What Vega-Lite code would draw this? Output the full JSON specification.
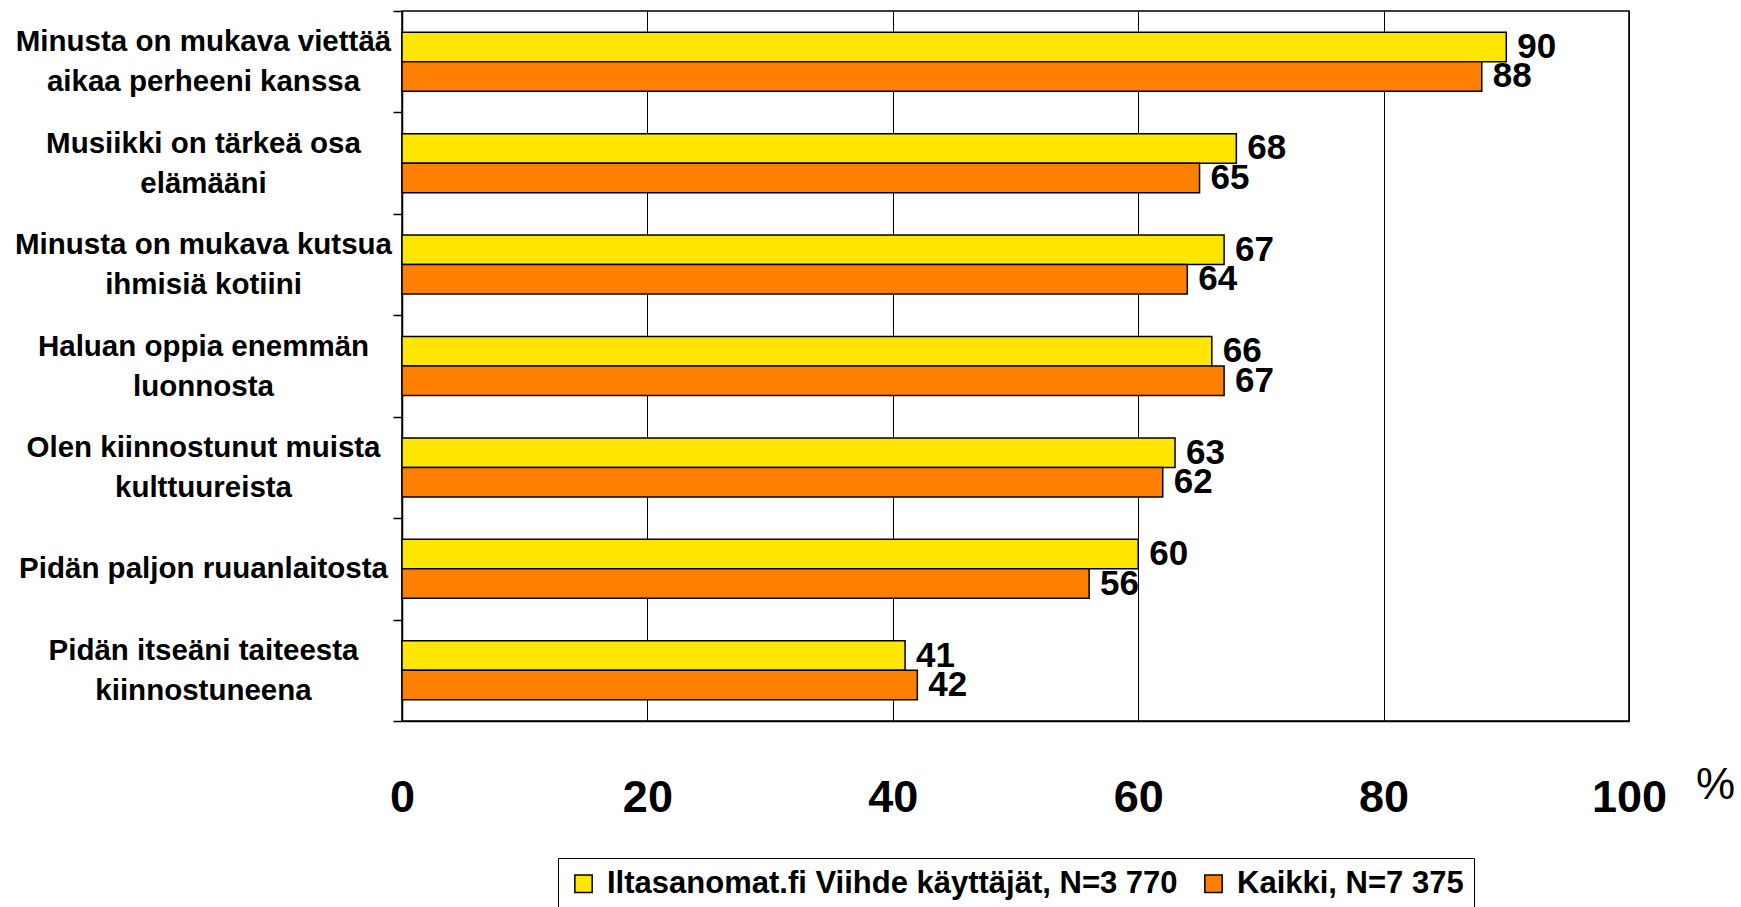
{
  "$schema": "https://vega.github.io/schema/vega-lite/v6.json",
  "width": 1227,
  "height": 710,
  "autosize": {"type": "none"},
  "padding": {"left": 402, "top": 11, "right": 112, "bottom": 186},
  "background": "white",
  "config": {
    "view": {"stroke": "black", "strokeWidth": 1.5},
    "font": "Liberation Sans"
  },
  "data": {
    "values": [
      {"kysymys": "Minusta on mukava viettää\naikaa perheeni kanssa", "ryhma": "Iltasanomat.fi Viihde käyttäjät, N=3 770", "arvo": 90},
      {"kysymys": "Minusta on mukava viettää\naikaa perheeni kanssa", "ryhma": "Kaikki, N=7 375", "arvo": 88},
      {"kysymys": "Musiikki on tärkeä osa\nelämääni", "ryhma": "Iltasanomat.fi Viihde käyttäjät, N=3 770", "arvo": 68},
      {"kysymys": "Musiikki on tärkeä osa\nelämääni", "ryhma": "Kaikki, N=7 375", "arvo": 65},
      {"kysymys": "Minusta on mukava kutsua\nihmisiä kotiini", "ryhma": "Iltasanomat.fi Viihde käyttäjät, N=3 770", "arvo": 67},
      {"kysymys": "Minusta on mukava kutsua\nihmisiä kotiini", "ryhma": "Kaikki, N=7 375", "arvo": 64},
      {"kysymys": "Haluan oppia enemmän\nluonnosta", "ryhma": "Iltasanomat.fi Viihde käyttäjät, N=3 770", "arvo": 66},
      {"kysymys": "Haluan oppia enemmän\nluonnosta", "ryhma": "Kaikki, N=7 375", "arvo": 67},
      {"kysymys": "Olen kiinnostunut muista\nkulttuureista", "ryhma": "Iltasanomat.fi Viihde käyttäjät, N=3 770", "arvo": 63},
      {"kysymys": "Olen kiinnostunut muista\nkulttuureista", "ryhma": "Kaikki, N=7 375", "arvo": 62},
      {"kysymys": "Pidän paljon ruuanlaitosta", "ryhma": "Iltasanomat.fi Viihde käyttäjät, N=3 770", "arvo": 60},
      {"kysymys": "Pidän paljon ruuanlaitosta", "ryhma": "Kaikki, N=7 375", "arvo": 56},
      {"kysymys": "Pidän itseäni taiteesta\nkiinnostuneena", "ryhma": "Iltasanomat.fi Viihde käyttäjät, N=3 770", "arvo": 41},
      {"kysymys": "Pidän itseäni taiteesta\nkiinnostuneena", "ryhma": "Kaikki, N=7 375", "arvo": 42}
    ]
  },
  "encoding": {
    "y": {
      "field": "kysymys",
      "type": "nominal",
      "sort": null,
      "scale": {"paddingInner": 0, "paddingOuter": 0},
      "axis": {
        "title": null,
        "tickBand": "extent",
        "tickSize": 9,
        "tickColor": "black",
        "tickWidth": 1.5,
        "domainColor": "black",
        "domainWidth": 1.5,
        "labelAlign": "center",
        "labelBaseline": "middle",
        "labelPadding": 190,
        "labelOffset": {"condition": {"test": "datum.value && indexof(datum.value, '\\n') >= 0", "value": -20}, "value": 0},
        "labelFontSize": 29.5,
        "labelFontWeight": "bold",
        "labelColor": "black",
        "labelLineHeight": 40,
        "labelLimit": 1000,
        "labelExpr": "datum.value ? split(datum.value, '\\n') : ''"
      }
    },
    "x": {
      "field": "arvo",
      "type": "quantitative",
      "scale": {"domain": [0, 100], "nice": false},
      "axis": {
        "title": "%",
        "values": [0, 20, 40, 60, 80, 100],
        "grid": true,
        "gridColor": "black",
        "gridWidth": 1,
        "gridOpacity": 1,
        "ticks": false,
        "domainColor": "black",
        "domainWidth": 1.5,
        "labelFontSize": 45,
        "labelFontWeight": "bold",
        "labelColor": "black",
        "labelPadding": 54,
        "labelFlush": false,
        "titleFontSize": 44,
        "titleFontWeight": "normal",
        "titleColor": "black",
        "titleX": 1313,
        "titleY": 64,
        "titleBaseline": "middle",
        "titleAlign": "center"
      }
    },
    "yOffset": {
      "field": "ryhma",
      "type": "nominal",
      "sort": null,
      "scale": {"paddingInner": 0, "paddingOuter": 0.72}
    }
  },
  "layer": [
    {
      "mark": {"type": "bar", "stroke": "black", "strokeWidth": 1.5},
      "encoding": {
        "color": {
          "field": "ryhma",
          "type": "nominal",
          "sort": null,
          "scale": {
            "domain": ["Iltasanomat.fi Viihde käyttäjät, N=3 770", "Kaikki, N=7 375"],
            "range": ["#FFE600", "#FF8000"]
          },
          "legend": {
            "title": null,
            "orient": "none",
            "legendX": 156,
            "legendY": 847,
            "direction": "horizontal",
            "symbolType": "square",
            "symbolSize": 300,
            "symbolStrokeColor": "black",
            "symbolStrokeWidth": 1.5,
            "labelFontSize": 31,
            "labelFontWeight": "bold",
            "labelColor": "black",
            "labelLimit": 1000,
            "labelOffset": 8,
            "columnPadding": 20,
            "padding": 10,
            "strokeColor": "black",
            "fillColor": "white"
          }
        }
      }
    },
    {
      "mark": {"type": "text", "align": "left", "baseline": "middle", "dx": 11, "fontSize": 35, "fontWeight": "bold", "color": "black"},
      "encoding": {
        "text": {"field": "arvo", "type": "quantitative"}
      }
    }
  ]
}
